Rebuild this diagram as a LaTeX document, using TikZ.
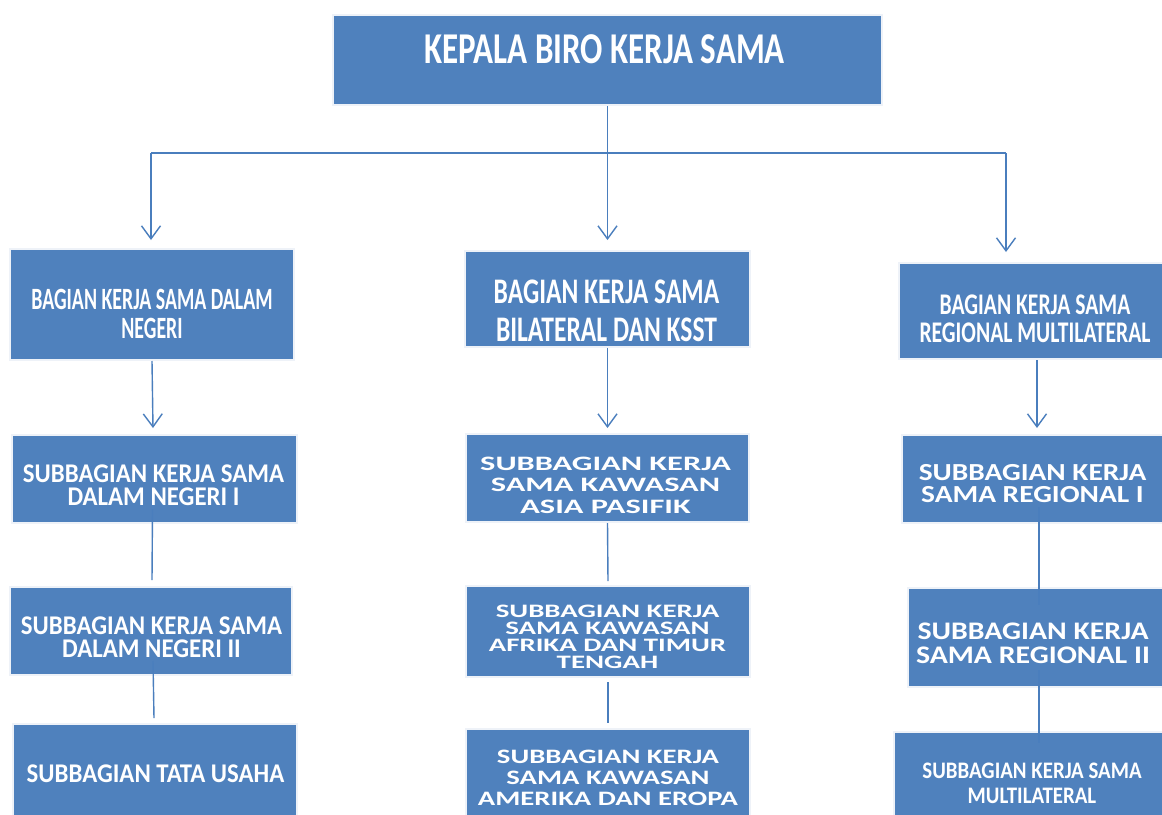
\documentclass[tikz,border=0pt]{standalone}
\usepackage{fontspec}
\setmainfont{Carlito}
\usetikzlibrary{arrows.meta,calc}
\definecolor{boxblue}{HTML}{4F81BD}
\definecolor{lineblue}{HTML}{4A7EBD}
\definecolor{rimblue}{HTML}{EEF2F8}
\newcommand\txf[3]{\fontsize{#2}{#3}\selectfont\addfontfeatures{FakeStretch=#1}}
\begin{document}
\begin{tikzpicture}[x=1pt,y=-1pt,
  box/.style={fill=boxblue, draw=rimblue, line width=2pt, inner sep=0pt, anchor=north west},
  lbl/.style={text=white, align=center, inner sep=0pt, anchor=center},
  link/.style={draw=lineblue, line width=1.4pt},
  arr/.style={link, -{Straight Barb[length=13pt,width=19pt]}}]
\fill[white] (0,0) rectangle (1162,814);
\useasboundingbox (0,0) rectangle (1162,814);

% boxes
\node[box, minimum width=549pt, minimum height=90pt] (top) at (332,14) {};
\node[box, minimum width=284pt, minimum height=111pt] (L1) at (9,248) {};
\node[box, minimum width=285pt, minimum height=96pt] (M1) at (464,250) {};
\node[box, minimum width=266pt, minimum height=96pt] (R1) at (898,262) {};
\node[box, minimum width=285pt, minimum height=88pt] (L2) at (11,434) {};
\node[box, minimum width=283pt, minimum height=88pt] (M2) at (465,433) {};
\node[box, minimum width=263pt, minimum height=88pt] (R2) at (901,434) {};
\node[box, minimum width=282pt, minimum height=88pt] (L3) at (9,586) {};
\node[box, minimum width=284pt, minimum height=91pt] (M3) at (465,585) {};
\node[box, minimum width=257pt, minimum height=99pt] (R3) at (907,587) {};
\node[box, minimum width=284pt, minimum height=93pt] (L4) at (12,723) {};
\node[box, minimum width=284pt, minimum height=88pt] (M4) at (465,728) {};
\node[box, minimum width=271pt, minimum height=85pt] (R4) at (893,731) {};

% texts
\node[lbl, font=\bfseries\txf{0.75}{44}{44}] (tTop) at (604.5,49) {KEPALA BIRO KERJA SAMA};
\node[lbl, font=\bfseries\txf{0.64}{31}{29}] (tL1) at (152,313.5) {BAGIAN KERJA SAMA DALAM\\NEGERI};
\node[lbl, font=\bfseries\txf{0.71}{36}{38}] (tM1) at (606.5,310.5) {BAGIAN KERJA SAMA\\BILATERAL DAN KSST};
\node[lbl, font=\bfseries\txf{0.72}{30}{28}] (tR1) at (1035,319) {BAGIAN KERJA SAMA\\REGIONAL MULTILATERAL};
\node[lbl, font=\bfseries\txf{0.92}{27}{23}] (tL2) at (153.5,485) {SUBBAGIAN KERJA SAMA\\DALAM NEGERI I};
\node[lbl, font=\bfseries\txf{0.92}{27}{23}] (tL3) at (151.5,637) {SUBBAGIAN KERJA SAMA\\DALAM NEGERI II};
\node[lbl, font=\bfseries\txf{0.92}{27}{27}] (tL4) at (155.5,773.5) {SUBBAGIAN TATA USAHA};
\node[lbl, font=\bfseries\txf{1.58}{20.5}{21.5}] (tM2) at (605.5,485) {SUBBAGIAN KERJA\\SAMA KAWASAN\\ASIA PASIFIK};
\node[lbl, font=\bfseries\txf{1.52}{19}{17}] (tM3) at (607.5,636.5) {SUBBAGIAN KERJA\\SAMA KAWASAN\\AFRIKA DAN TIMUR\\TENGAH};
\node[lbl, font=\bfseries\txf{1.40}{20.5}{21}] (tM4) at (608,777.5) {SUBBAGIAN KERJA\\SAMA KAWASAN\\AMERIKA DAN EROPA};
\node[lbl, font=\bfseries\txf{1.2}{24.5}{22}] (tR2) at (1032.5,483.5) {SUBBAGIAN KERJA\\SAMA REGIONAL I};
\node[lbl, font=\bfseries\txf{1.18}{25.3}{24}] (tR3) at (1033,643) {SUBBAGIAN KERJA\\SAMA REGIONAL II};
\node[lbl, font=\bfseries\txf{0.88}{23.7}{25}] (tR4) at (1032,783) {SUBBAGIAN KERJA SAMA\\MULTILATERAL};

% connectors, level 1
\coordinate (busL) at (151,153);
\coordinate (busR) at (1006,153);
\draw[link] (busL) -- (busR);
\draw[arr] (top.south) -- ($(M1.north)+(0,-10)$);
\draw[arr] (busL) -- ($(busL |- L1.north)+(0,-8)$);
\draw[arr] (busR) -- ($(busR |- R1.north)+(0,-10)$);

% level 2
\draw[arr] (L1.south) -- ($(L1.south |- L2.north)+(1,-6)$);
\draw[arr] (M1.south) -- ($(M2.north)+(0,-5)$);
\coordinate (r1b) at ($(R1.south)+(5,0)$);
\draw[arr] (r1b) -- ($(r1b |- R2.north)+(0,-6)$);

% level 3 and 4
\draw[link] ($(L2.south)+(-2,-15)$) -- ($(L3.north)+(1,-6)$);
\draw[link] ($(L3.south)+(2,-15)$) -- ($(L4.north)+(-1,-5)$);
\draw[link] (M2.south) -- ($(M3.north)+(0,-4)$);
\draw[link] ($(M3.south)+(0,4)$) -- ($(M4.north)+(0,-5)$);
\draw[link] ($(R2.south)+(5.5,-17)$) -- ($(R3.north)+(2.5,18)$);
\draw[link] ($(R3.south)+(2.5,-18)$) -- ($(R4.north)+(9.5,12)$);
\end{tikzpicture}
\end{document}
